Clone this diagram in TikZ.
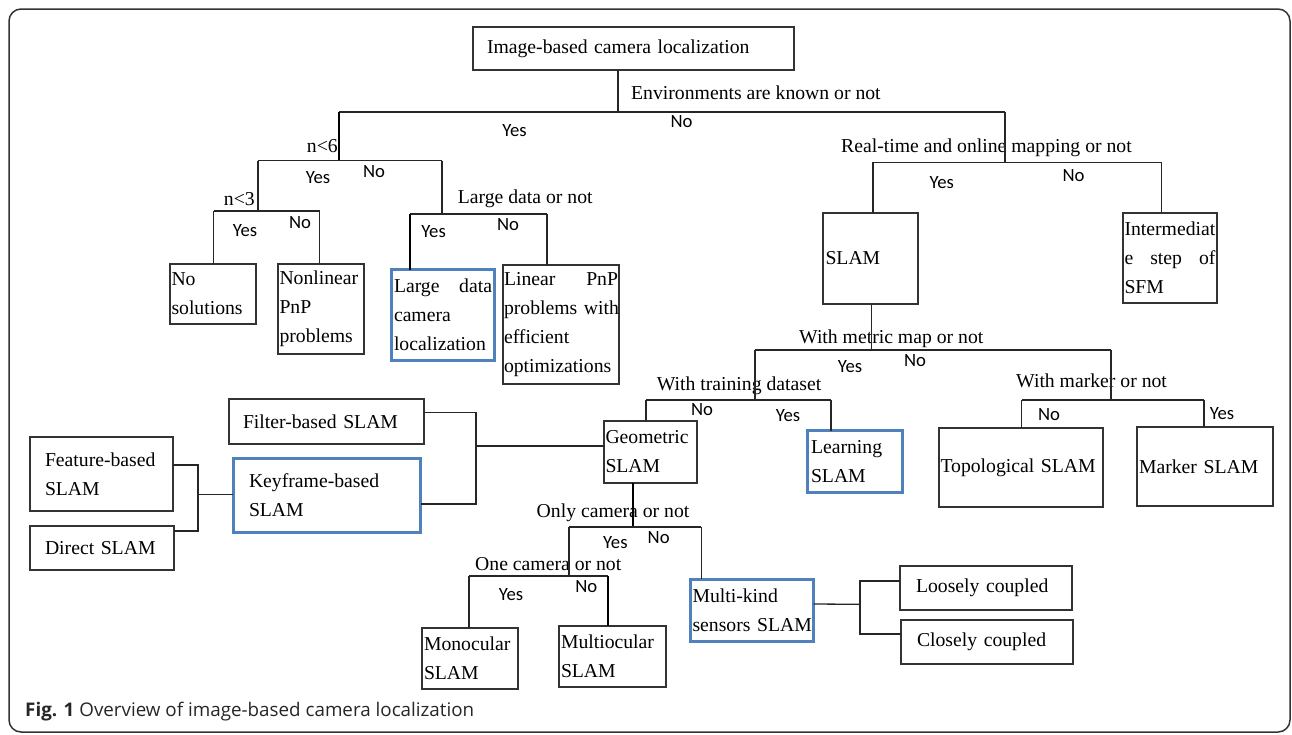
\documentclass[tikz,border=0pt]{standalone}
\usepackage{fontspec}
\setmainfont{Liberation Serif}
\newfontfamily\yesnofont{Carlito}
\newfontfamily\captionfont{Open Sans}
\definecolor{wordblue}{RGB}{79,129,189}
\newcommand{\spreadline}[1]{\noindent\hbox to\hsize{#1}}

\begin{document}
\begin{tikzpicture}[x=1pt, y=-1pt,
  box/.style={draw=black!80, line width=1.2pt, rectangle, anchor=north west, outer sep=0pt,
    inner ysep=0pt, inner xsep=1.5pt, align=left, font=\fontsize{19.7}{29}\selectfont},
  bluebox/.style={box, draw=wordblue, line width=3pt},
  ask/.style={anchor=west, inner sep=0pt, text height=13pt, text depth=0pt, font=\fontsize{19.7}{24}\selectfont},
  ans/.style={inner sep=0pt, text height=12pt, text depth=0pt, font=\yesnofont\fontsize{18.7}{22}\selectfont},
  tree/.style={draw=black!85, line width=1.3pt},
  heavy/.style={draw=black, line width=2pt}]

\useasboundingbox (0,0) rectangle (1292,734);

% Moldura e legenda
\draw[black!80, line width=1.5pt, rounded corners=12pt] (9,9) rectangle (1290,732);
\node (caption) [anchor=base west, inner sep=0pt, font=\captionfont\fontsize{18.8}{22}\selectfont, text=black!85] at (25,716)
  {\textbf{Fig. 1} Overview of image-based camera localization};

% Raiz
\node (root) [box, minimum width=321pt, minimum height=43pt, inner xsep=14pt, text width=293pt] at (473,27) {Image-based camera localization};
\node (envq) [ask] at (631,93) {Environments are known or not};
\node (envyes) [ans] at (514.5,130) {Yes};
\node (envno) [ans] at (681.5,121.7) {No};

\coordinate (env) at (618,112);
\coordinate (known) at (339,112);
\coordinate (unknown) at (1005,112);
\draw[tree] (root.south -| env) -- (env);
\draw[tree] (known) -- (unknown);

% Ramo n<6
\node (nsixq) [ask, anchor=east] at (338,146) {n<6};
\node (nsixyes) [ans] at (318,177.7) {Yes};
\node (nsixno) [ans] at (374,171) {No};
\coordinate (nsix) at (339,160.5);
\coordinate (nthree) at (258,160.5);
\coordinate (bigq) at (442,160.5);
\draw[heavy] (known) -- (nsix);
\draw[tree] (nthree) -- (bigq);

% Ramo n<3
\node (nthreeq) [ask, anchor=east] at (255,198.5) {n<3};
\node (nthreeyes) [ans] at (245,230) {Yes};
\node (nthreeno) [ans] at (300,222) {No};
\node (nosol) [box, minimum width=86pt, minimum height=60pt, text width=83pt] at (170,264) {No\\solutions};
\node (nonlin) [box, minimum width=86pt, minimum height=90pt, text width=83pt] at (278,264) {Nonlinear\\PnP\\problems};
\coordinate (nthreej) at (258,211);
\coordinate (nosolq) at (213.7,211);
\coordinate (nonlinq) at (319.5,211);
\draw[tree] (nthree) -- (nthreej);
\draw[tree] (nosolq) -- (nonlinq);
\draw[tree] (nosolq) -- (nosolq |- nosol.north);
\draw[tree] (nonlinq) -- (nonlinq |- nonlin.north);

% Ramo dados grandes
\node (largeq) [ask] at (457.7,196.5) {Large data or not};
\node (largeyes) [ans] at (433.6,231) {Yes};
\node (largeno) [ans] at (508,224) {No};
\node (largedata) [bluebox, minimum width=103pt, minimum height=91pt, inner xsep=2.5pt, text width=98pt] at (391.5,269.5)
  {\spreadline{Large\hfill data}\\camera\\localization};
\node (linear) [box, minimum width=116pt, minimum height=119pt, inner xsep=1pt, text width=114pt] at (503,265)
  {\spreadline{Linear\hfill PnP}\\problems~with\\efficient\\optimizations};
\coordinate (bigj) at (442,214);
\coordinate (bigyes) at (410,214);
\coordinate (bigno) at (547,214);
\draw[tree] (bigq) -- (bigj);
\draw[tree] (bigyes) -- (bigno);
\draw[heavy] (bigyes) -- (bigyes |- largedata.north);
\draw[tree] (bigno) -- (bigno |- linear.north);

% Ramo tempo real
\node (rtq) [ask] at (841,145.7) {Real-time and online mapping or not};
\node (rtyesl) [ans] at (941.7,182.7) {Yes};
\node (rtnol) [ans] at (1073.6,175) {No};
\node (slam) [box, minimum width=95pt, minimum height=91pt, inner xsep=2.5pt, text width=90pt] at (823,213) {SLAM};
\node (interm) [box, minimum width=94pt, minimum height=90pt, text width=91pt] at (1123,213)
  {Intermediat\\\spreadline{e\hfill step\hfill of}\\SFM};
\coordinate (rtj) at (1005,162.3);
\coordinate (rtyes) at (873,162.3);
\coordinate (rtno) at (1161.6,162.3);
\draw[tree] (unknown) -- (rtj);
\draw[tree] (rtyes) -- (rtno);
\draw[tree] (rtyes) -- (rtyes |- slam.north);
\draw[tree] (rtno) -- (rtno |- interm.north);

% Mapa metrico
\node (metq) [ask] at (799,336.7) {With metric map or not};
\node (metyesl) [ans] at (850,366.7) {Yes};
\node (metnol) [ans] at (915,360) {No};
\coordinate (metj) at (871.5,350);
\coordinate (metyes) at (755,350);
\coordinate (metno) at (1111,350);
\draw[tree] (slam.south -| metj) -- (metj);
\draw[tree] (metyes) -- (metno);

% Dados de treino
\node (trainq) [ask] at (656.6,384) {With training dataset};
\node (trainnol) [ans] at (702,409) {No};
\node (trainyesl) [ans] at (788,415.7) {Yes};
\node (geometric) [box, minimum width=93pt, minimum height=62pt, text width=90pt] at (604,421) {Geometric\\SLAM};
\node (learning) [bluebox, minimum width=94.5pt, minimum height=62pt, inner xsep=3.5pt, text width=87.5pt] at (807.5,430.5) {Learning\\SLAM};
\coordinate (trainj) at (755,400);
\coordinate (trainno) at (646,400);
\coordinate (trainyes) at (831,400);
\draw[tree] (metyes) -- (trainj);
\draw[tree] (trainno) -- (trainyes);
\draw[tree] (trainno) -- (trainno |- geometric.north);
\draw[tree] (trainyes) -- (trainyes |- learning.north);

% Marcadores
\node (markq) [ask] at (1016,380.7) {With marker or not};
\node (marknol) [ans] at (1049,414) {No};
\node (markyesl) [ans] at (1222,413) {Yes};
\node (topo) [box, minimum width=164pt, minimum height=79pt, text width=161pt] at (939,428) {Topological~SLAM};
\node (marker) [box, minimum width=136pt, minimum height=79pt, inner xsep=2pt, text width=132pt] at (1137,427) {Marker~SLAM};
\coordinate (markj) at (1111,400);
\coordinate (markno) at (1021.7,400);
\coordinate (markyes) at (1204,400);
\draw[tree] (metno) -- (markj);
\draw[tree] (markno) -- (markyes);
\draw[tree] (markno) -- (markno |- topo.north);
\draw[tree] (markyes) -- (markyes |- marker.north);

% Tipos de SLAM geometrico
\node (filter) [box, minimum width=195pt, minimum height=45pt, inner xsep=14pt, text width=167pt] at (229,399) {Filter-based~SLAM};
\node (keyframe) [bluebox, minimum width=187.5pt, minimum height=74pt, inner xsep=16pt, text width=155.5pt] at (233,458.5) {Keyframe-based\\SLAM};
\node (feature) [box, minimum width=143pt, minimum height=74pt, inner xsep=15pt, text width=113pt] at (30,437) {Feature-based\\SLAM};
\node (direct) [box, minimum width=144pt, minimum height=44pt, inner xsep=15pt, text width=114pt] at (30,526) {Direct~SLAM};
\coordinate (gbrack) at (476,446);
\coordinate (fdbrack) at (198,494.7);
\draw[tree] ([yshift=9pt]filter.east) -| (gbrack) |- ([yshift=-8.5pt]keyframe.east);
\draw[tree] (gbrack) -- (geometric.west |- gbrack);
\draw[tree] ([yshift=9pt]feature.east) -| (fdbrack) |- ([yshift=17pt]direct.east);
\draw[tree] (fdbrack) -- (keyframe.west |- fdbrack);

% Apenas camera
\node (camq) [ask] at (536.5,510.7) {Only camera or not};
\node (camyesl) [ans] at (615.4,542.3) {Yes};
\node (camnol) [ans] at (658.7,537.3) {No};
\node (multikind) [bluebox, minimum width=123pt, minimum height=62pt, inner xsep=2pt, text width=119pt] at (690.5,579) {Multi-kind\\sensors~SLAM};
\coordinate (camj) at (633,527);
\coordinate (camyes) at (569,527);
\coordinate (camno) at (701.4,527);
\draw[heavy] (geometric.south -| camj) -- (camj);
\draw[tree] (camyes) -- (camno);
\draw[tree] (camno) -- (camno |- multikind.north);

% Uma camera
\node (oneq) [ask] at (475,564.3) {One camera or not};
\node (oneyesl) [ans] at (511,594.3) {Yes};
\node (onenol) [ans] at (586.3,586.7) {No};
\node (mono) [box, minimum width=96pt, minimum height=61pt, inner xsep=2pt, text width=92pt] at (422,628) {Monocular\\SLAM};
\node (multi) [box, minimum width=107pt, minimum height=61pt, inner xsep=2pt, text width=103pt] at (559,626) {Multiocular\\SLAM};
\coordinate (onej) at (569,576);
\coordinate (oneyes) at (469,576);
\coordinate (oneno) at (608,576);
\draw[tree] (camyes) -- (onej);
\draw[tree] (oneyes) -- (oneno);
\draw[tree] (oneyes) -- (oneyes |- mono.north);
\draw[heavy] (oneno) -- (oneno |- multi.north);

% Acoplamento dos sensores
\node (loosely) [box, minimum width=172pt, minimum height=44pt, inner xsep=16pt, text width=140pt] at (900,566) {Loosely~coupled};
\node (closely) [box, minimum width=172pt, minimum height=44pt, inner xsep=16pt, text width=140pt] at (901,620) {Closely~coupled};
\coordinate (mkj) at (860,604.3);
\coordinate (mkup) at (860,581);
\coordinate (mkdown) at (860,634);
\draw[tree] ([yshift=6pt]multikind.east) -- (mkj);
\draw[tree] (loosely.west |- mkup) -- (mkup) -- (mkdown) -- (closely.west |- mkdown);

\end{tikzpicture}
\end{document}
